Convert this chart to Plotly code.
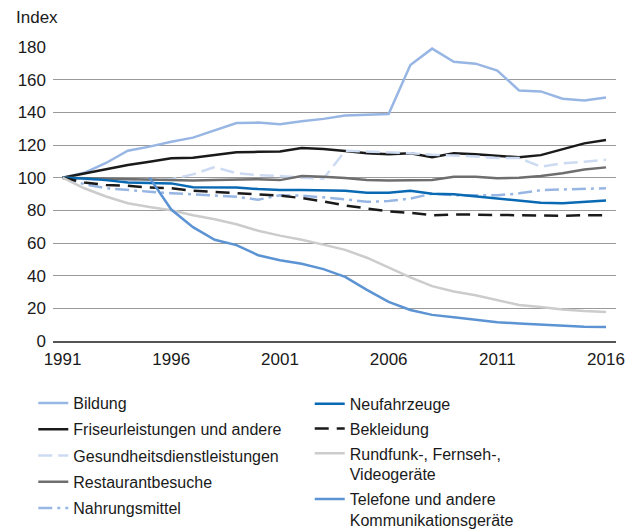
import plotly.graph_objects as go

years = list(range(1991, 2017))

bildung = [100, 103, 109, 116.5, 119, 122, 124.5, 129, 133.5, 133.7, 132.7, 134.5, 136, 138, 138.5, 139,
           169, 179, 171, 169.8, 165.6, 153.4, 152.8, 148.3, 147.2, 149.1]
friseur = [100, 102.7, 105.3, 107.8, 109.8, 111.9, 112.2, 114, 115.5, 115.8, 116, 118.2, 117.5, 116.3, 115, 114.3,
           115, 112.5, 115, 114.3, 113.2, 112.5, 113.8, 117.2, 121, 123]
gesund = [100, 99, 98.5, 98.5, 98.5, 99, 102, 106.5, 102.7, 101.5, 101, 100, 99.3, 116.5, 116, 115.3,
          115, 114, 113.5, 113, 112, 112, 106.7, 108.8, 109.8, 111]
restaurant = [100, 99.7, 99.5, 99.4, 99.2, 98.8, 98.3, 98.6, 99, 99, 98.5, 101, 100.5, 99.8, 98.6, 98.2,
              98.4, 98.6, 100.5, 100.5, 99.6, 100, 101, 102.7, 105, 106.3]
nahrung = [100, 96, 93.5, 92.3, 91.4, 90.5, 89.8, 89.2, 88.3, 86.5, 89.2, 89, 88, 86.8, 85.2, 85.7,
           87.2, 90.2, 89.2, 89.3, 89.2, 90.4, 92.3, 92.8, 93.2, 93.5]
neufahrzeuge = [100, 99.5, 98.5, 97, 96.8, 96.5, 94.2, 94, 94, 93, 92.5, 92.5, 92.3, 92, 90.8, 90.8,
                92, 90.2, 89.8, 88.5, 87.4, 85.8, 84.7, 84.3, 85, 86]
bekleidung = [100, 97, 95.5, 95, 94, 93.5, 92, 91.2, 90.8, 90, 89, 87.5, 85.5, 83, 81, 79.3,
              78.5, 77, 77.5, 77.3, 77, 76.7, 76.5, 76.7, 77, 77]
rundfunk = [100, 93.5, 88.5, 84.3, 82, 80, 77, 74.5, 71.5, 67.5, 64.5, 62, 59, 55.8, 51, 45,
            39, 33.6, 30.3, 28, 25, 22, 20.8, 19.3, 18.4, 17.8]
telefone = [None, None, None, None, 100, 80.5, 69.7, 62, 58.7, 52.5, 49.5, 47.3, 44, 39.3, 31.3, 24,
            19, 16, 14.5, 13.2, 11.5, 10.7, 10, 9.2, 8.7, 8.6]

x_ticks = [1991, 1996, 2001, 2006, 2011, 2016]
y_ticks = [0, 20, 40, 60, 80, 100, 120, 140, 160, 180]

series = [
    ("Bildung", bildung, "#98b6e4", "solid", "legend"),
    ("Friseurleistungen und andere", friseur, "#1a1a1a", "solid", "legend"),
    ("Gesundheitsdienstleistungen", gesund, "#cddbf2", "14px,6px", "legend"),
    ("Restaurantbesuche", restaurant, "#6e6e6e", "solid", "legend"),
    ("Nahrungsmittel", nahrung, "#98b6e4", "14px,5px,3px,5px", "legend"),
    ("Neufahrzeuge", neufahrzeuge, "#0a69b3", "solid", "legend2"),
    ("Bekleidung", bekleidung, "#1a1a1a", "14px,8px", "legend2"),
    ("Rundfunk-, Fernseh-,<br>Videogeräte", rundfunk, "#cccccc", "solid", "legend2"),
    ("Telefone und andere<br>Kommunikationsgeräte", telefone, "#5b93d3", "solid", "legend2"),
]

fig = go.Figure()
for name, vals, color, dash, leg in series:
    fig.add_trace(go.Scatter(
        x=years, y=vals, name=name, mode="lines",
        line=dict(color=color, width=2.5, dash=dash),
        legend=leg, legendgroup=name, connectgaps=False,
    ))

FONT = "Liberation Sans, Arial, sans-serif"

fig.update_layout(
    width=642, height=532,
    margin=dict(l=53, r=26, t=47, b=191, autoexpand=False),
    paper_bgcolor="white", plot_bgcolor="white",
    font=dict(family=FONT, size=16, color="#1a1a1a"),
    xaxis=dict(
        range=[1990.56, 2016.46], tickvals=x_ticks, ticktext=[str(v) for v in x_ticks],
        showgrid=False, zeroline=False, showline=True, linecolor="#555555", linewidth=2,
        ticks="", tickfont=dict(size=17), ticklabelstandoff=2,
    ),
    yaxis=dict(
        range=[0, 180], tickvals=y_ticks, showgrid=True, gridcolor="#9a9a9a", gridwidth=1,
        zeroline=False, showline=False, ticks="", tickfont=dict(size=17), ticklabelstandoff=6,
    ),
    legend=dict(
        orientation="v", x=-0.035, xanchor="left", y=-0.153, yanchor="top",
        bgcolor="rgba(0,0,0,0)", font=dict(size=16, family=FONT, color="#1a1a1a"),
        tracegroupgap=2.5, valign="top",
    ),
    legend2=dict(
        orientation="v", x=0.456, xanchor="left", y=-0.156, yanchor="top",
        bgcolor="rgba(0,0,0,0)", font=dict(size=16, family=FONT, color="#1a1a1a"),
        tracegroupgap=1, valign="top",
    ),
    annotations=[dict(
        text="Index", xref="paper", yref="paper", x=-0.069, y=1.102,
        xanchor="left", yanchor="middle", showarrow=False,
        font=dict(size=17, family=FONT, color="#1a1a1a"),
    )],
)

fig.write_html("out.html", config={"displayModeBar": False},
               post_script="document.body.style.margin='0px';")
